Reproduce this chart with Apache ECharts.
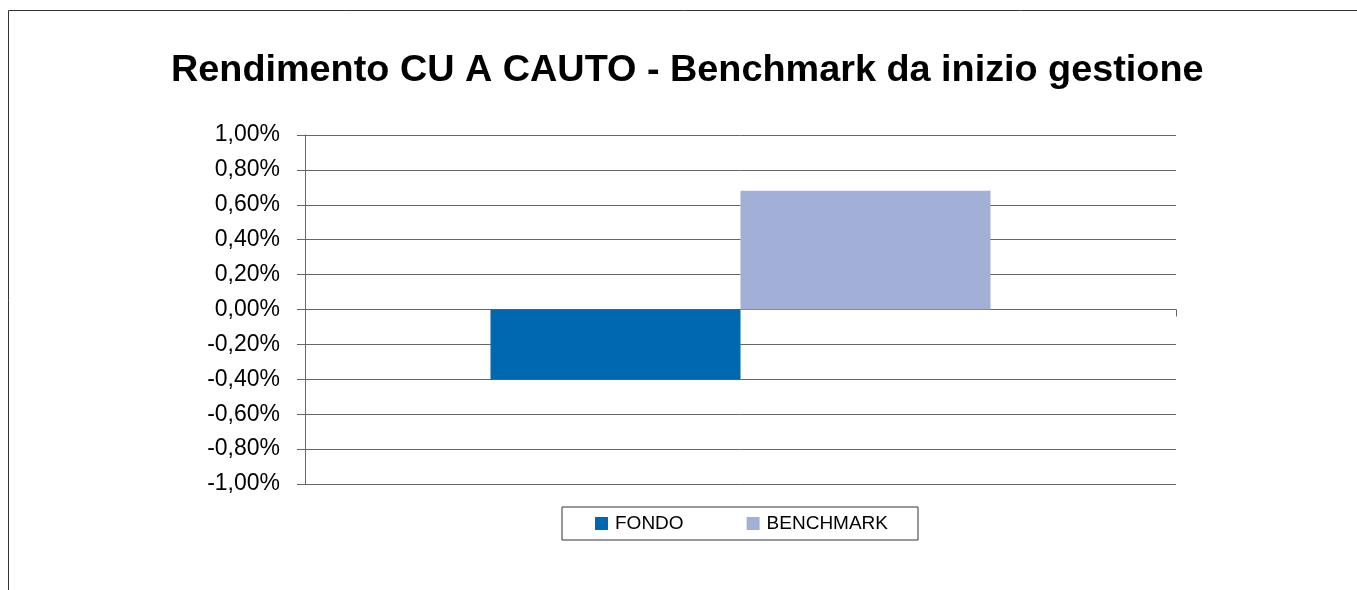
<!DOCTYPE html>
<html>
<head>
<meta charset="utf-8">
<script src="https://cdn.jsdelivr.net/npm/echarts@6/dist/echarts.min.js"></script>
<style>
  html, body { margin: 0; padding: 0; background: #fff; }
  #chart { width: 1357px; height: 590px; }
</style>
</head>
<body>
<div id="chart"></div>
<script>
// dati (valori in %)
const categories = [''];
const seriesNames = ['FONDO', 'BENCHMARK'];
const fondo = [-0.40];
const benchmark = [0.68];
const yTicks = { min: -1, max: 1, step: 0.2 };

const chart = echarts.init(document.getElementById('chart'));

const fmtPct = v => {
    if (Math.abs(v) < 1e-9) v = 0;
    return v.toFixed(2).replace('.', ',') + '%';
};

const option = {
    backgroundColor: '#ffffff',
    animation: false,
    textStyle: { fontFamily: 'Liberation Sans, Arial, sans-serif' },
    title: {
        text: 'Rendimento CU A CAUTO - Benchmark da inizio gestione',
        left: 166,
        top: 47,
        textStyle: { fontSize: 37.8, fontWeight: 'bold', color: '#000' }
    },
    // cornice esterna
    graphic: [{
        type: 'rect',
        shape: { x: 8.5, y: 10.5, width: 1400, height: 700 },
        style: { fill: 'none', stroke: '#333', lineWidth: 1 },
        silent: true
    }],
    legend: {
        data: seriesNames,
        left: 562,
        top: 507,
        padding: [7, 30, 7, 33],
        itemWidth: 13,
        itemHeight: 13,
        itemGap: 63,
        borderColor: '#333',
        borderWidth: 1,
        icon: 'rect',
        textStyle: { fontSize: 19, color: '#000', padding: [0, 0, 0, 2] }
    },
    grid: { left: 305, right: 181, top: 135, bottom: 106 },
    xAxis: {
        type: 'category',
        data: categories,
        axisLine: { lineStyle: { color: '#666' } },
        axisTick: { show: true, length: 7, lineStyle: { color: '#666' } },
        axisLabel: { show: false }
    },
    yAxis: {
        type: 'value',
        min: yTicks.min,
        max: yTicks.max,
        interval: yTicks.step,
        axisLine: { show: true, lineStyle: { color: '#666' } },
        axisTick: { show: true, length: 8, lineStyle: { color: '#666' } },
        axisLabel: { formatter: fmtPct, fontSize: 23, color: '#000', margin: 25 },
        splitLine: { lineStyle: { color: '#666' } }
    },
    series: [
        {
            name: 'FONDO',
            type: 'bar',
            data: fondo,
            barWidth: 250,
            barGap: '0%',
            itemStyle: { color: '#0068b1' }
        },
        {
            name: 'BENCHMARK',
            type: 'bar',
            data: benchmark,
            barWidth: 250,
            barGap: '0%',
            itemStyle: { color: '#a2b0d8' }
        }
    ]
};

chart.setOption(option);
</script>
</body>
</html>
